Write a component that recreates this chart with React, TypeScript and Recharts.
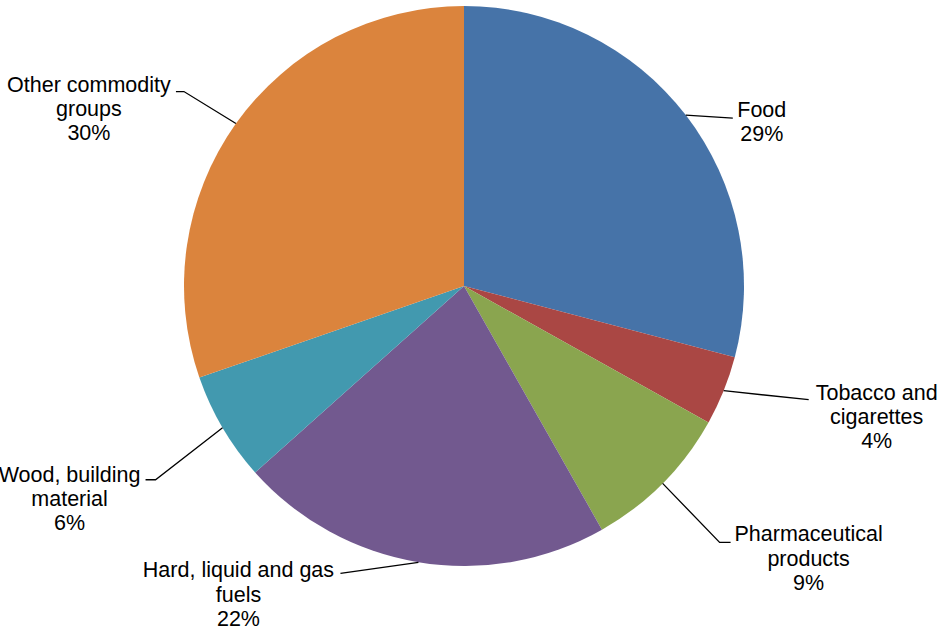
import React from "react";
import { PieChart, Pie, Cell } from "recharts";

// Commodity groups, shares (percent)
const categories = [
  "Food",
  "Tobacco and cigarettes",
  "Pharmaceutical products",
  "Hard, liquid and gas fuels",
  "Wood, building material",
  "Other commodity groups",
];
const shares = [29.1, 4.0, 8.7, 21.6, 6.3, 30.3];
const percentLabels = ["29%", "4%", "9%", "22%", "6%", "30%"];
// how each label is broken over lines
const labelLines = [
  ["Food"],
  ["Tobacco and", "cigarettes"],
  ["Pharmaceutical", "products"],
  ["Hard, liquid and gas", "fuels"],
  ["Wood, building", "material"],
  ["Other commodity", "groups"],
];

const COLORS = ["#4673A8", "#AA4744", "#8AA54F", "#72598F", "#4299AF", "#DB843D"];

// label placement relative to the point where the slice's mid-angle meets the rim
// tx/ty: text centre x and first baseline; pts: leader line bends
const LABEL_LAYOUT = [
  { tx: 76, ty: 2, pts: [[47, 3]] },
  { tx: 153, ty: 9, pts: [[85, 9]] },
  { tx: 146, ty: 58, pts: [[57, 59], [68, 59]] },
  { tx: -180, ty: 15, pts: [[-78, 11]] },
  { tx: -153, ty: 54, pts: [[-67, 52], [-77, 52]] },
  { tx: -147, ty: -32, pts: [[-52, -32], [-60, -32]] },
];

const data = categories.map((name, i) => ({ name, value: shares[i] }));

const RADIAN = Math.PI / 180;
const LINE_H = 24.3;

const renderLabel = (props: any) => {
  const { cx, cy, midAngle, outerRadius, index } = props;
  const ax = cx + outerRadius * Math.cos(-midAngle * RADIAN);
  const ay = cy + outerRadius * Math.sin(-midAngle * RADIAN);
  const lay = LABEL_LAYOUT[index];
  const points = [[ax, ay], ...lay.pts.map(([dx, dy]) => [ax + dx, ay + dy])]
    .map((p) => p.join(","))
    .join(" ");
  const lines = [...labelLines[index], percentLabels[index]];
  return (
    <g key={`lbl-${index}`}>
      <polyline points={points} fill="none" stroke="#000" strokeWidth={1.3} />
      <text
        x={ax + lay.tx}
        y={ay + lay.ty}
        textAnchor="middle"
        fill="#000"
        fontSize={21.5}
        fontFamily="'Liberation Sans', Arial, sans-serif"
      >
        {lines.map((t, j) => (
          <tspan key={j} x={ax + lay.tx} dy={j === 0 ? 0 : LINE_H}>
            {t}
          </tspan>
        ))}
      </text>
    </g>
  );
};

export default function App() {
  return (
    <div style={{ position: "absolute", left: 0, top: 0, background: "#fff" }}>
      <PieChart
        width={938}
        height={628}
        margin={{ top: 0, right: 0, bottom: 0, left: 0 }}
      >
        <Pie
          data={data}
          dataKey="value"
          nameKey="name"
          cx={464}
          cy={286}
          outerRadius={280}
          startAngle={90}
          endAngle={-270}
          stroke="none"
          label={renderLabel}
          labelLine={false}
          isAnimationActive={false}
        >
          {data.map((d, i) => (
            <Cell key={d.name} fill={COLORS[i]} />
          ))}
        </Pie>
      </PieChart>
    </div>
  );
}
